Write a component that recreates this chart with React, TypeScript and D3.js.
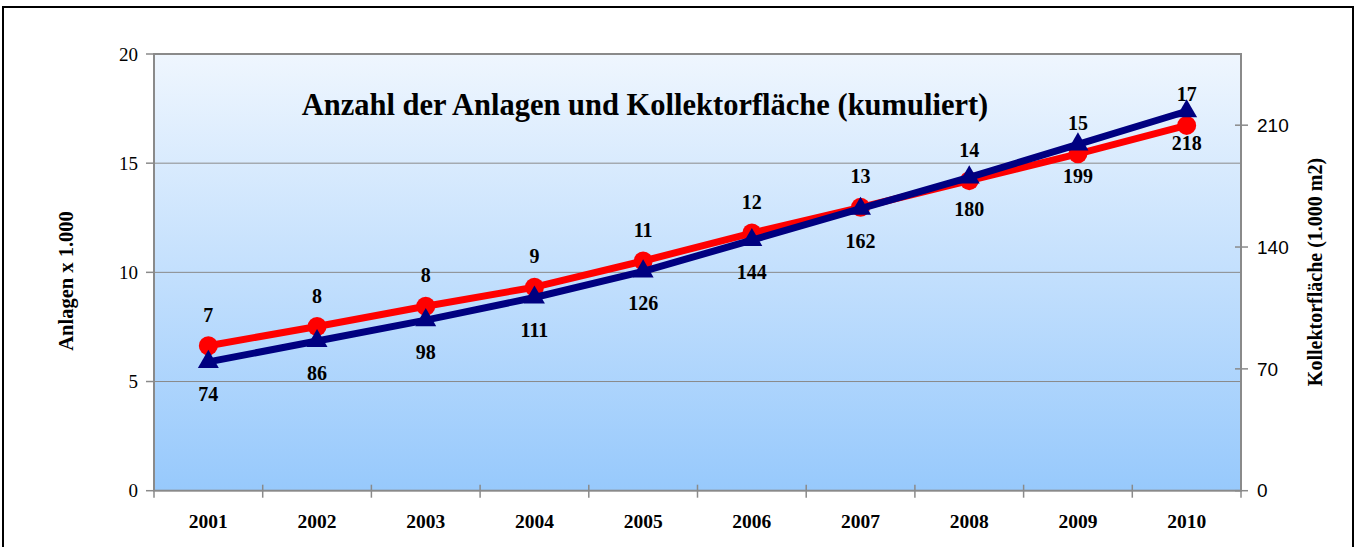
import React from "react";
import * as d3 from "d3";

const years = ["2001", "2002", "2003", "2004", "2005", "2006", "2007", "2008", "2009", "2010"];
const anlagen = [6.64, 7.52, 8.45, 9.32, 10.52, 11.8, 12.98, 14.2, 15.43, 16.73];
const flaeche = [74, 86, 98, 111, 126, 144, 162, 180, 199, 218];
const leftTicks = [0, 5, 10, 15, 20];
const rightTicks = [0, 70, 140, 210];
const title = "Anzahl der Anlagen und Kollektorfläche (kumuliert)";
const leftTitle = "Anlagen x 1.000";
const rightTitle = "Kollektorfläche (1.000 m2)";

const W = 1359, H = 547;
const L = 154, R = 1241, T = 54, B = 490.7;

export default function App() {
  const x = d3.scaleBand<string>().domain(years).range([L, R]);
  const yL = d3.scaleLinear().domain([0, 20]).range([B, T]);
  const yR = d3.scaleLinear().domain([0, 250.9]).range([B, T]);
  const cx = (d: string) => (x(d) ?? 0) + x.bandwidth() / 2;
  const lineL = d3.line<number>().x((_, i) => cx(years[i])).y((d) => yL(d));
  const lineR = d3.line<number>().x((_, i) => cx(years[i])).y((d) => yR(d));
  const tri = d3.symbol().type(d3.symbolTriangle).size(190)();
  const fmt = d3.format(".0f");
  const serif = "'Liberation Serif', 'Times New Roman', serif";
  const sans = "'Liberation Sans', Arial, sans-serif";
  return (
    <svg width={W} height={H} style={{ position: "absolute", left: 0, top: 0 }}>
      <defs>
        <linearGradient id="bg" x1="0" y1="0" x2="0" y2="1">
          <stop offset="0" stopColor="#EFF6FE" />
          <stop offset="1" stopColor="#97C9FC" />
        </linearGradient>
      </defs>
      <rect x={0} y={0} width={W} height={H} fill="#fff" />
      <rect x={3} y={7} width={1350} height={560} fill="none" stroke="#000" strokeWidth={2} />
      <rect x={L} y={T} width={R - L} height={B - T} fill="url(#bg)" />
      {leftTicks.slice(1, -1).map((t) => (
        <line key={t} x1={L} x2={R} y1={yL(t)} y2={yL(t)} stroke="#8a8a8a" strokeWidth={1} />
      ))}
      <rect x={L} y={T} width={R - L} height={B - T} fill="none" stroke="#8a8a8a" strokeWidth={2} />
      {leftTicks.map((t) => (
        <g key={t}>
          <line x1={L - 8} x2={L} y1={yL(t)} y2={yL(t)} stroke="#8a8a8a" strokeWidth={1.5} />
          <text x={L - 16} y={yL(t)} dy="0.35em" textAnchor="end" fontFamily={serif} fontSize={19}>{t}</text>
        </g>
      ))}
      {rightTicks.map((t) => (
        <g key={t}>
          <line x1={R - 6} x2={R + 7} y1={yR(t)} y2={yR(t)} stroke="#8a8a8a" strokeWidth={1.5} />
          <text x={R + 16} y={yR(t)} dy="0.35em" textAnchor="start" fontFamily={sans} fontSize={19}>{t}</text>
        </g>
      ))}
      {years.map((yr, i) => (
        <g key={yr}>
          {i > 0 && <line x1={x(yr)} x2={x(yr)} y1={B - 6} y2={B + 7} stroke="#8a8a8a" strokeWidth={1.5} />}
          <text x={cx(yr)} y={521} dy="0.35em" textAnchor="middle" fontFamily={serif} fontWeight="bold" fontSize={19.5}>{yr}</text>
        </g>
      ))}
      <line x1={L} x2={L} y1={B} y2={B + 7} stroke="#8a8a8a" strokeWidth={1.5} />
      <line x1={R} x2={R} y1={B} y2={B + 7} stroke="#8a8a8a" strokeWidth={1.5} />
      <text x={645} y={104} dy="0.35em" textAnchor="middle" fontFamily={serif} fontWeight="bold" fontSize={30.5}>{title}</text>
      <text transform={`translate(66,281) rotate(-90)`} dy="0.35em" textAnchor="middle" fontFamily={serif} fontWeight="bold" fontSize={20.5}>{leftTitle}</text>
      <text transform={`translate(1315,272) rotate(-90)`} dy="0.35em" textAnchor="middle" fontFamily={serif} fontWeight="bold" fontSize={20}>{rightTitle}</text>
      <path d={lineL(anlagen) ?? ""} fill="none" stroke="#FF0000" strokeWidth={7} strokeLinejoin="round" />
      {anlagen.map((v, i) => (
        <circle key={i} cx={cx(years[i])} cy={yL(v)} r={9.5} fill="#FF0000" />
      ))}
      <path d={lineR(flaeche) ?? ""} fill="none" stroke="#000080" strokeWidth={7} strokeLinejoin="round" />
      {flaeche.map((v, i) => (
        <path key={i} d={tri ?? ""} transform={`translate(${cx(years[i])},${yR(v)})`} fill="#000080" />
      ))}
      {anlagen.map((v, i) => (
        <text key={i} x={cx(years[i])} y={yL(v) - 31} dy="0.35em" textAnchor="middle" fontFamily={serif} fontWeight="bold" fontSize={20}>{fmt(v)}</text>
      ))}
      {flaeche.map((v, i) => (
        <text key={i} x={cx(years[i])} y={yR(v) + 32} dy="0.35em" textAnchor="middle" fontFamily={serif} fontWeight="bold" fontSize={20}>{fmt(v)}</text>
      ))}
    </svg>
  );
}
